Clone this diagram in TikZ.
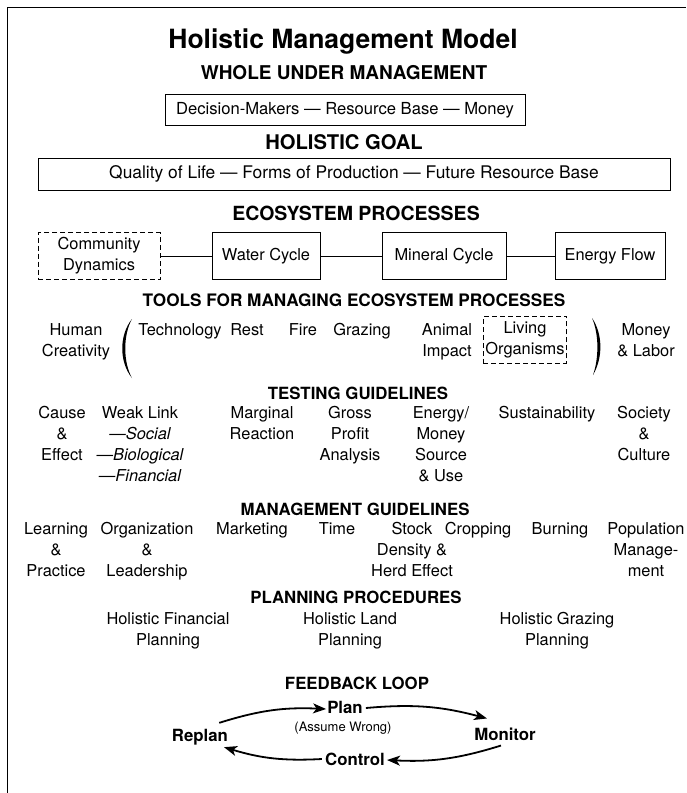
\documentclass[tikz,border=0pt]{standalone}
\usepackage{fontspec}
\setmainfont{TeX Gyre Heros}
\usetikzlibrary{arrows.meta}
\tikzset{
  txt/.style={font=\fontsize{16.4}{21}\selectfont, align=center, inner sep=1pt},
  toprow/.style={txt, anchor=north},
  hd/.style={font=\bfseries\fontsize{19.5}{23}\selectfont, inner sep=1pt},
  subhd/.style={font=\bfseries\fontsize{16.8}{20}\selectfont, inner sep=1pt},
  box/.style={txt, draw, line width=0.6pt},
  dbox/.style={box, dash pattern=on 5pt off 3pt},
  fbarrow/.style={line width=1.8pt, -{Stealth[length=13pt,width=10pt,inset=3.5pt]}}
}
\begin{document}
\begin{tikzpicture}[x=1pt,y=-1pt]
\useasboundingbox (0,0) rectangle (686,793);
\draw[line width=0.6pt] (7,793)--(7,7)--(686,7);
\node[font=\bfseries\fontsize{26.5}{30}\selectfont] (title) at (343,42) {Holistic Management Model};
\node[hd, font=\bfseries\fontsize{19}{23}\selectfont] (wumhd) at (344,73) {WHOLE UNDER MANAGEMENT};
\node[box, minimum width=360pt, minimum height=31pt, font=\fontsize{16.6}{21}\selectfont] (wum) at (345,110) {Decision-Makers --- Resource Base --- Money};
\node[hd, font=\bfseries\fontsize{20.2}{23}\selectfont] (goalhd) at (344,142) {HOLISTIC GOAL};
\node[box, minimum width=632pt, minimum height=32pt, font=\fontsize{17.4}{21}\selectfont] (goal) at (354,174) {Quality of Life --- Forms of Production --- Future Resource Base};
\node[hd] (ecohd) at (356,213) {ECOSYSTEM PROCESSES};
\node[dbox, minimum width=122pt, minimum height=47pt] (comm) at (99,256) {Community\\Dynamics};
\node[box, minimum width=108pt, minimum height=47pt] (water) at (266,256) {Water Cycle};
\node[box, minimum width=124pt, minimum height=47pt] (mineral) at (444,256) {Mineral Cycle};
\node[box, minimum width=110pt, minimum height=47pt] (energy) at (610,256) {Energy Flow};
\draw[line width=0.6pt] (comm.east)--(water.west) (water.east)--(mineral.west) (mineral.east)--(energy.west);
\node[subhd, font=\bfseries\fontsize{17.2}{20}\selectfont] (toolhd) at (354,300) {TOOLS FOR MANAGING ECOSYSTEM PROCESSES};
\node[toprow] (human) at (76,322) {Human\\Creativity};
\node[toprow] (tech) at (180,322) {Technology}; \node[toprow] (rest) at (247,322) {Rest}; \node[toprow] (fire) at (303,322) {Fire}; \node[toprow] (graz) at (362,322) {Grazing};
\node[toprow] (impact) at (447,322) {Animal\\Impact};
\node[toprow, draw, dash pattern=on 5pt off 3pt, minimum width=70pt, minimum height=47pt, inner sep=2pt] (living) at (525,316) {Living\\Organisms};
\node[toprow] (money) at (646,322) {Money\\\& Labor};
\fill (132,319) .. controls (119,335) and (119,362) .. (132,378) .. controls (123,362) and (123,335) .. cycle;
\fill (592,318) .. controls (603,334) and (603,358) .. (593,375) .. controls (599,358) and (599,334) .. cycle;
\node[subhd] (testhd) at (358,393) {TESTING GUIDELINES};
\node[toprow] (cause) at (62,405) {Cause\\\&\\Effect};
\node[toprow] (weak) at (140,405) {Weak Link\\\itshape ---Social\\\itshape ---Biological\\\itshape ---Financial};
\node[toprow] (marg) at (262,405) {Marginal\\Reaction};
\node[toprow] (gross) at (350,405) {Gross\\Profit\\Analysis};
\node[toprow] (emsu) at (441,405) {Energy/\\Money\\Source\\\& Use};
\node[toprow] (sust) at (547,405) {Sustainability};
\node[toprow] (soc) at (644,405) {Society\\\&\\Culture};
\node[subhd] (mgmthd) at (355,509) {MANAGEMENT GUIDELINES};
\node[toprow] (learn) at (56,521) {Learning\\\&\\Practice};
\node[toprow] (org) at (147,521) {Organization\\\&\\Leadership};
\node[toprow] (mkt) at (252,521) {Marketing}; \node[toprow] (time) at (337,521) {Time};
\node[toprow] (stock) at (412,521) {Stock\\Density \&\\Herd Effect};
\node[toprow] (crop) at (478,521) {Cropping}; \node[toprow] (burn) at (560,521) {Burning};
\node[toprow] (pop) at (646,521) {Population\\Manage-\\ment};
\node[subhd] (planhd) at (356,597) {PLANNING PROCEDURES};
\node[toprow] (fin) at (168,611) {Holistic Financial\\Planning};
\node[toprow] (land) at (350,611) {Holistic Land\\Planning};
\node[toprow] (grz) at (557,611) {Holistic Grazing\\Planning};
\node[subhd] (fbhd) at (357,683) {FEEDBACK LOOP};
\node[subhd] (plan) at (345,707) {Plan};
\node[font=\fontsize{13}{15}\selectfont] (assume) at (343,728) {(Assume Wrong)};
\node[subhd] (replan) at (200,737) {Replan};
\node[subhd] (monitor) at (505,734) {Monitor};
\node[subhd] (control) at (355,759) {Control};
\draw[fbarrow] ([shift={(-10,-5)}]replan.north east) to[bend left=10] ([shift={(0,2)}]plan.west);
\draw[fbarrow] ([shift={(2,1)}]plan.east) to[bend left=10] ([shift={(-18,-8)}]monitor.north);
\draw[fbarrow] ([shift={(-4,4)}]monitor.south) to[bend left=10] ([shift={(1,1)}]control.east);
\draw[fbarrow] ([shift={(-2,0)}]control.west) to[bend left=10] ([shift={(24,1)}]replan.south);
\end{tikzpicture}
\end{document}
